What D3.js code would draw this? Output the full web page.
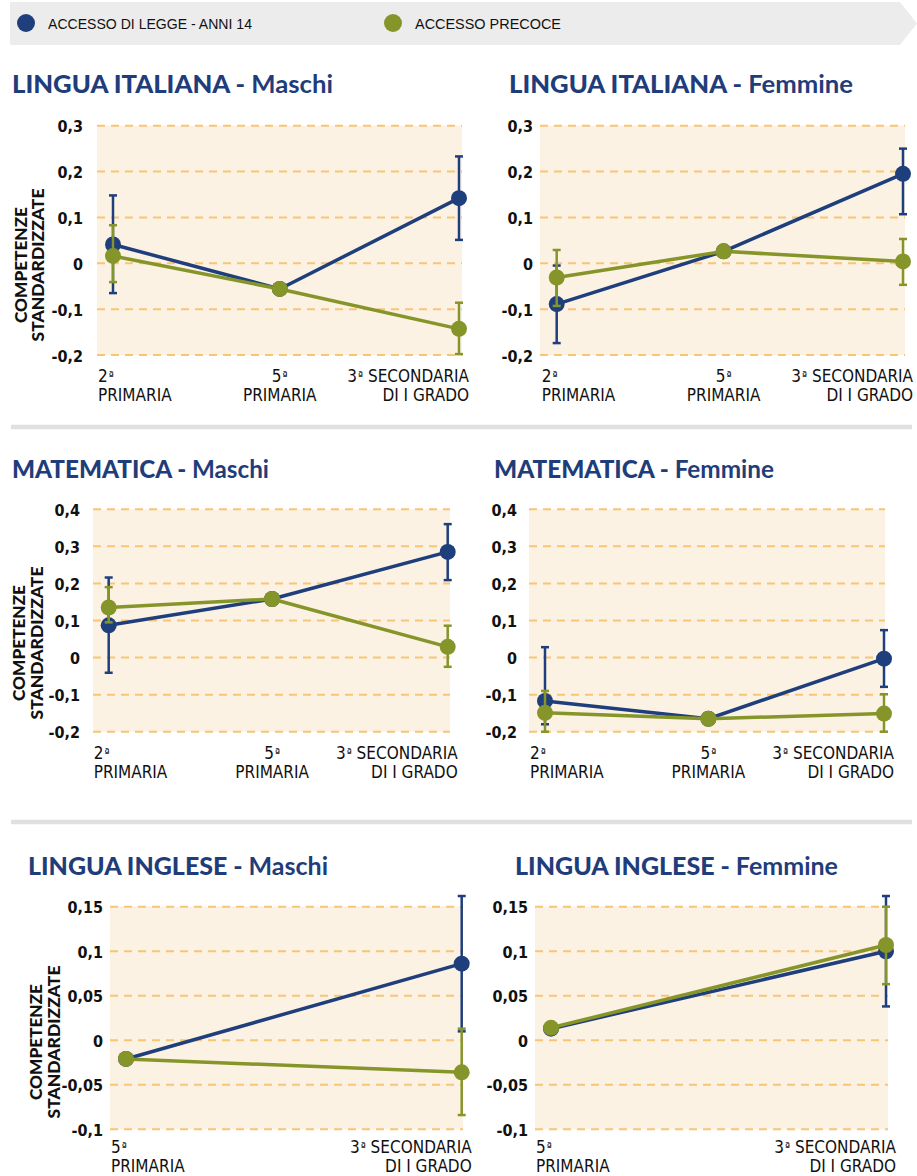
<!DOCTYPE html>
<html><head><meta charset="utf-8">
<script src="https://cdn.jsdelivr.net/npm/d3@7"></script>
<style>
html,body{margin:0;padding:0;background:#fff;}
svg{display:block;}
</style></head>
<body>
<svg id="chart" width="917" height="1176"></svg>
<script>
// ---------------- DATA ----------------
const seriesNames = ["ACCESSO DI LEGGE - ANNI 14", "ACCESSO PRECOCE"];
const seriesColors = ["#1f3e7c", "#86952a"];

const catLabels3 = [["2|ª", "PRIMARIA"], ["5|ª", "PRIMARIA"], ["3|ª| SECONDARIA", "DI I GRADO"]];
const catLabels2 = [["5|ª", "PRIMARIA"], ["3|ª| SECONDARIA", "DI I GRADO"]];

const ticksIta = [-0.2, -0.1, 0, 0.1, 0.2, 0.3];
const ticksMat = [-0.2, -0.1, 0, 0.1, 0.2, 0.3, 0.4];
const ticksIng = [-0.1, -0.05, 0, 0.05, 0.1, 0.15];

// Lingua italiana - Maschi
const itaM_legge = [0.041, -0.056, 0.142];
const itaM_leggeLo = [-0.065, null, 0.051];
const itaM_leggeHi = [0.148, null, 0.233];
const itaM_precoce = [0.016, -0.056, -0.143];
const itaM_precoceLo = [-0.041, null, -0.198];
const itaM_precoceHi = [0.083, null, -0.086];
// Lingua italiana - Femmine
const itaF_legge = [-0.089, 0.026, 0.195];
const itaF_leggeLo = [-0.174, null, 0.107];
const itaF_leggeHi = [-0.005, null, 0.25];
const itaF_precoce = [-0.031, 0.026, 0.004];
const itaF_precoceLo = [-0.093, null, -0.047];
const itaF_precoceHi = [0.029, null, 0.053];
// Matematica - Maschi
const matM_legge = [0.087, 0.158, 0.285];
const matM_leggeLo = [-0.041, null, 0.209];
const matM_leggeHi = [0.216, null, 0.36];
const matM_precoce = [0.135, 0.158, 0.029];
const matM_precoceLo = [0.095, null, -0.025];
const matM_precoceHi = [0.19, null, 0.086];
// Matematica - Femmine
const matF_legge = [-0.117, -0.165, -0.003];
const matF_leggeLo = [-0.18, null, -0.079];
const matF_leggeHi = [0.028, null, 0.074];
const matF_precoce = [-0.149, -0.165, -0.151];
const matF_precoceLo = [-0.2, null, -0.2];
const matF_precoceHi = [-0.09, null, -0.099];
// Lingua inglese - Maschi
const ingM_legge = [-0.021, 0.086];
const ingM_leggeLo = [null, 0.01];
const ingM_leggeHi = [null, 0.162];
const ingM_precoce = [-0.021, -0.036];
const ingM_precoceLo = [null, -0.084];
const ingM_precoceHi = [null, 0.013];
// Lingua inglese - Femmine
const ingF_legge = [0.013, 0.1];
const ingF_leggeLo = [null, 0.038];
const ingF_leggeHi = [null, 0.162];
const ingF_precoce = [0.014, 0.107];
const ingF_precoceLo = [null, 0.063];
const ingF_precoceHi = [null, 0.15];

const panelTitles = [
  ["LINGUA ITALIANA", "Maschi"], ["LINGUA ITALIANA", "Femmine"],
  ["MATEMATICA", "Maschi"], ["MATEMATICA", "Femmine"],
  ["LINGUA INGLESE", "Maschi"], ["LINGUA INGLESE", "Femmine"]
];
const yTitleLines = ["COMPETENZE", "STANDARDIZZATE"];

// ---------------- LAYOUT ----------------
const panels = [
  {title: panelTitles[0], cats: catLabels3, ticks: ticksIta,
   series: [[itaM_legge, itaM_leggeLo, itaM_leggeHi], [itaM_precoce, itaM_precoceLo, itaM_precoceHi]],
   bg: [97, 462], yr: [355, 125.7], px: [113, 459], tx: 12, ty: 93, tw: 321, lab: 83, yt: [27, 44, 265], xl: [27, 46]},
  {title: panelTitles[1], cats: catLabels3, ticks: ticksIta,
   series: [[itaF_legge, itaF_leggeLo, itaF_leggeHi], [itaF_precoce, itaF_precoceLo, itaF_precoceHi]],
   bg: [540, 905], yr: [355, 125.7], px: [556.7, 903], tx: 509, ty: 93, tw: 344, lab: 533, yt: null, xl: [27, 46]},
  {title: panelTitles[2], cats: catLabels3, ticks: ticksMat,
   series: [[matM_legge, matM_leggeLo, matM_leggeHi], [matM_precoce, matM_precoceLo, matM_precoceHi]],
   bg: [93, 450], yr: [731.7, 509.3], px: [108.7, 447.7], tx: 12, ty: 478, tw: 257, lab: 80, yt: [25, 43, 643], xl: [27, 46]},
  {title: panelTitles[3], cats: catLabels3, ticks: ticksMat,
   series: [[matF_legge, matF_leggeLo, matF_leggeHi], [matF_precoce, matF_precoceLo, matF_precoceHi]],
   bg: [529, 885], yr: [731.7, 509.3], px: [545, 884], tx: 494, ty: 478, tw: 280, lab: 517, yt: null, xl: [27, 46]},
  {title: panelTitles[4], cats: catLabels2, ticks: ticksIng,
   series: [[ingM_legge, ingM_leggeLo, ingM_leggeHi], [ingM_precoce, ingM_precoceLo, ingM_precoceHi]],
   bg: [110, 463], yr: [1129.3, 906.7], px: [126, 461.7], tx: 28, ty: 875, tw: 300, lab: 103, yt: [42, 60, 1042], xl: [24, 43]},
  {title: panelTitles[5], cats: catLabels2, ticks: ticksIng,
   series: [[ingF_legge, ingF_leggeLo, ingF_leggeHi], [ingF_precoce, ingF_precoceLo, ingF_precoceHi]],
   bg: [535, 888], yr: [1129.3, 906.7], px: [551, 886], tx: 515, ty: 875, tw: 323, lab: 528, yt: null, xl: [24, 43]}
];

const locale = d3.formatLocale({decimal: ",", thousands: ".", grouping: [3], currency: ["", "€"], minus: "-"});
const fmt = locale.format("~g");

const narrow = "'Liberation Sans Narrow', 'DejaVu Sans Condensed', 'Arial Narrow', sans-serif";
const titleFont = "Lato, 'Noto Sans', sans-serif";
const svg = d3.select("#chart");

// legend banner
svg.append("path")
  .attr("d", "M10,2 L900,2 L917,23.5 L900,45 L10,45 Z")
  .attr("fill", "#ececec");
const legX = [26, 393];
const legW = [204, 146];
seriesNames.forEach((n, i) => {
  svg.append("circle").attr("cx", legX[i]).attr("cy", 23).attr("r", 9).attr("fill", seriesColors[i]);
  svg.append("text").attr("x", legX[i] + 22).attr("y", 28.5)
    .attr("font-family", "'Liberation Sans', Arial, sans-serif").attr("font-size", 15)
    .attr("textLength", legW[i]).attr("lengthAdjust", "spacingAndGlyphs")
    .attr("fill", "#111").text(n);
});

// separators
[427, 822].forEach(y => {
  svg.append("line").attr("x1", 11).attr("x2", 912).attr("y1", y).attr("y2", y)
    .attr("stroke", "#e0e0e0").attr("stroke-width", 4.5);
});

panels.forEach(p => {
  const g = svg.append("g");
  const n = p.cats.length;
  const idx = d3.range(n);
  const xPos = n === 3 ? [p.px[0], p.px[0] + 0.482 * (p.px[1] - p.px[0]), p.px[1]] : [p.px[0], p.px[1]];
  const x = d3.scaleOrdinal().domain(idx).range(xPos);
  const y = d3.scaleLinear().domain(d3.extent(p.ticks)).range(p.yr);

  // title
  const t = g.append("text").attr("x", p.tx).attr("y", p.ty)
    .attr("font-family", titleFont).attr("font-weight", 900).attr("font-size", 25)
    .attr("textLength", p.tw).attr("lengthAdjust", "spacingAndGlyphs")
    .attr("fill", "#1f3d7a");
  t.append("tspan").text(p.title[0] + " - ");
  t.append("tspan").attr("font-weight", 700).text(p.title[1]);

  // background
  g.append("rect").attr("x", p.bg[0]).attr("y", y(d3.max(p.ticks)))
    .attr("width", p.bg[1] - p.bg[0]).attr("height", y(d3.min(p.ticks)) - y(d3.max(p.ticks)))
    .attr("fill", "#fcf2e4");

  // gridlines
  g.selectAll(".grid").data(p.ticks).join("line")
    .attr("x1", p.bg[0]).attr("x2", p.bg[1])
    .attr("y1", d => y(d)).attr("y2", d => y(d))
    .attr("stroke", "#f8c574").attr("stroke-width", 2).attr("stroke-dasharray", "8,6");

  // y axis with library
  const yAxis = d3.axisLeft(y).tickValues(p.ticks).tickFormat(fmt).tickSize(0).tickPadding(0);
  const ay = g.append("g").attr("transform", `translate(${p.lab},0)`).call(yAxis);
  ay.select(".domain").remove();
  ay.selectAll("text").attr("font-family", narrow).attr("font-weight", 700)
    .attr("font-size", 16).attr("fill", "#111").attr("dy", "0.38em");

  // x labels
  idx.forEach(i => {
    const anchor = i === 0 ? "start" : (i === n - 1 ? "end" : "middle");
    const xx = i === 0 ? x(i) - 15 : (i === n - 1 ? x(i) + 10 : x(i));
    const base = y(d3.min(p.ticks));
    p.cats[i].forEach((line, k) => {
      const te = g.append("text").attr("x", xx).attr("y", base + p.xl[k])
        .attr("text-anchor", anchor)
        .attr("font-family", narrow).attr("font-size", 17).attr("fill", "#111");
      let pending = 0;
      line.split("|").forEach(part => {
        if (part === "ª") {
          te.append("tspan").attr("font-size", 12).attr("dy", -2).attr("dx", 1).text(part);
          pending = 2;
        } else {
          const sp = te.append("tspan").text(part);
          if (pending) { sp.attr("dy", pending); pending = 0; }
        }
      });
    });
  });

  // y title
  if (p.yt) {
    const lens = [116, 153];
    yTitleLines.forEach((line, k) => {
      g.append("text")
        .attr("transform", `translate(${p.yt[k]},${p.yt[2]}) rotate(-90)`)
        .attr("text-anchor", "middle")
        .attr("font-family", titleFont).attr("font-weight", 900).attr("font-size", 17.5)
        .attr("textLength", lens[k]).attr("lengthAdjust", "spacingAndGlyphs")
        .attr("fill", "#111").text(line);
    });
  }

  // series
  const line = d3.line().x(d => x(d.i)).y(d => y(d.v));
  p.series.forEach((s, si) => {
    const col = seriesColors[si];
    const pts = s[0].map((v, i) => ({i, v, lo: s[1][i], hi: s[2][i]}));
    const sg = g.append("g");
    sg.append("path").datum(pts).attr("d", line).attr("fill", "none")
      .attr("stroke", col).attr("stroke-width", 3.5).attr("stroke-linejoin", "round");
    const eb = pts.filter(d => d.lo != null);
    sg.selectAll(".eb").data(eb).join("line")
      .attr("x1", d => x(d.i)).attr("x2", d => x(d.i))
      .attr("y1", d => y(d.lo)).attr("y2", d => y(d.hi))
      .attr("stroke", col).attr("stroke-width", 2.5);
    ["lo", "hi"].forEach(k => {
      sg.selectAll(".cap" + k).data(eb).join("line")
        .attr("x1", d => x(d.i) - 4).attr("x2", d => x(d.i) + 4)
        .attr("y1", d => y(d[k])).attr("y2", d => y(d[k]))
        .attr("stroke", col).attr("stroke-width", 2.5);
    });
    sg.selectAll("circle").data(pts).join("circle")
      .attr("cx", d => x(d.i)).attr("cy", d => y(d.v)).attr("r", 8).attr("fill", col);
  });
});
</script>
</body></html>
